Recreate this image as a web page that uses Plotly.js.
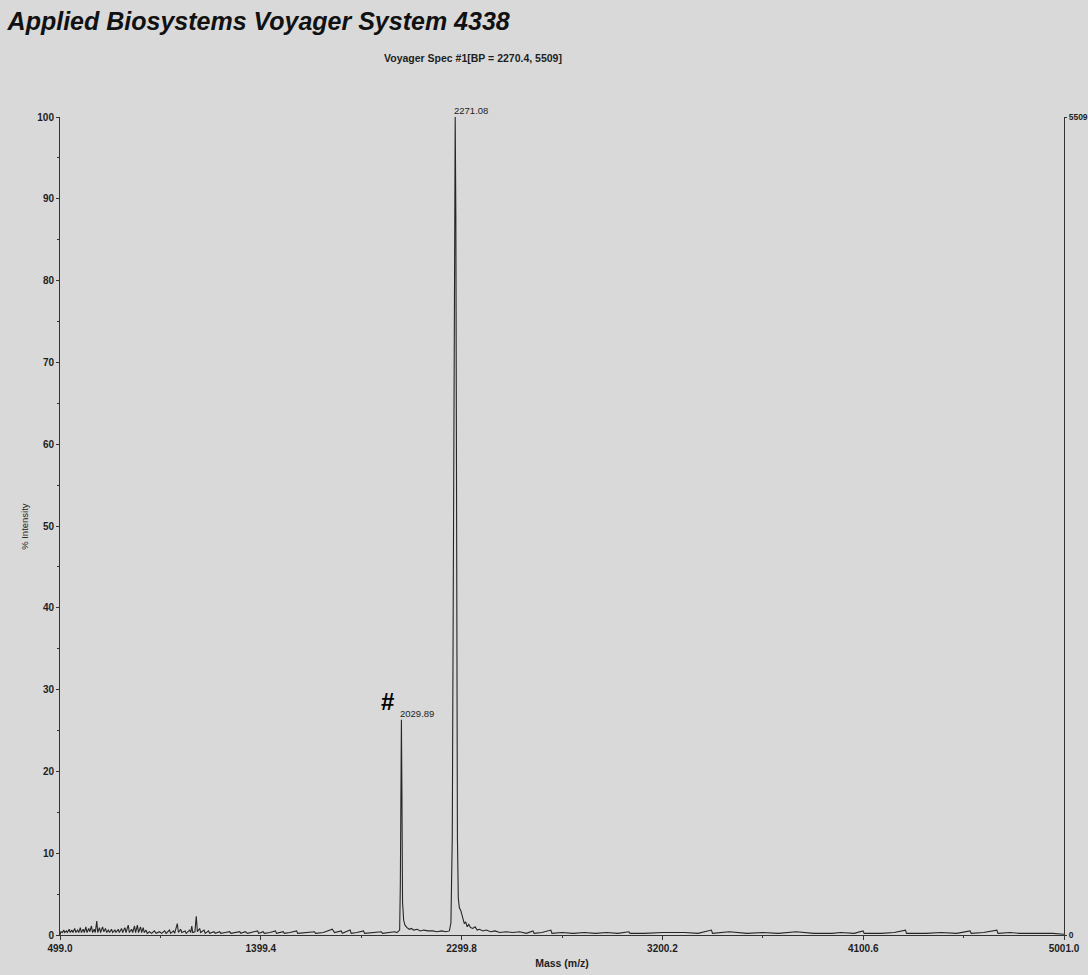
<!DOCTYPE html>
<html>
<head>
<meta charset="utf-8">
<script src="https://cdn.plot.ly/plotly-3.0.1.min.js"></script>
<style>
html,body{margin:0;padding:0;background:#d9d9d9;}
#chart{width:1088px;height:975px;}
</style>
</head>
<body>
<div id="chart"></div>
<script>
// Spectrum: mass (m/z) and % intensity
const mass = [
  499, 503, 510, 516, 520, 527, 532, 540, 545, 552, 557, 565, 570, 578, 583, 590, 595, 603, 608, 615,
  620, 628, 633, 640, 645, 652, 657, 664, 668, 676, 681, 690, 695, 703, 708, 716, 721, 730, 735, 745,
  750, 760, 765, 775, 780, 790, 795, 805, 810, 820, 825, 833, 838, 846, 851, 860, 865, 872, 877, 885,
  890, 900, 910, 922, 930, 945, 955, 968, 975, 990, 995, 1008, 1013, 1025, 1030, 1040, 1045, 1060, 1065, 1080,
  1085, 1090, 1094, 1104, 1110, 1115, 1125, 1130, 1145, 1150, 1165, 1170, 1190, 1195, 1215, 1220, 1240, 1260, 1265, 1285,
  1305, 1310, 1330, 1340, 1360, 1385, 1390, 1410, 1415, 1440, 1465, 1470, 1500, 1505, 1530, 1560, 1565, 1600, 1640, 1645,
  1680, 1720, 1730, 1760, 1765, 1800, 1805, 1830, 1860, 1865, 1900, 1940, 1945, 1980, 2000, 2010, 2016, 2022, 2025, 2028,
  2029.89, 2032, 2035, 2040, 2046, 2055, 2065, 2075, 2085, 2100, 2115, 2130, 2150, 2170, 2190, 2210, 2230, 2245, 2252, 2258,
  2264, 2268, 2271.08, 2274, 2277, 2281, 2285, 2290, 2296, 2300, 2306, 2312, 2318, 2325, 2332, 2340, 2350, 2360, 2370, 2380,
  2395, 2410, 2430, 2450, 2470, 2500, 2530, 2560, 2590, 2620, 2625, 2660, 2700, 2705, 2750, 2800, 2850, 2900, 2950, 3000,
  3050, 3055, 3120, 3200, 3300, 3360, 3420, 3425, 3500, 3580, 3650, 3720, 3800, 3880, 3960, 4000, 4060, 4100, 4105, 4180,
  4240, 4290, 4295, 4380, 4450, 4520, 4580, 4585, 4640, 4700, 4705, 4760, 4800, 4880, 4950, 5001
];
const intensity = [
  0.0, 0.4, 0.3, 0.6, 0.3, 0.5, 0.3, 0.7, 0.3, 0.6, 0.3, 0.8, 0.3, 0.6, 0.3, 0.9, 0.3, 0.7, 0.3, 1.0,
  0.3, 0.8, 0.4, 1.1, 0.3, 0.7, 0.3, 1.7, 0.3, 0.9, 0.3, 1.0, 0.4, 0.8, 0.3, 0.6, 0.3, 0.7, 0.3, 0.6,
  0.3, 0.7, 0.3, 0.8, 0.3, 0.9, 0.3, 1.2, 0.3, 0.7, 0.3, 1.1, 0.3, 1.2, 0.3, 1.0, 0.3, 0.9, 0.3, 0.6,
  0.2, 0.4, 0.2, 0.5, 0.2, 0.4, 0.2, 0.5, 0.2, 0.6, 0.2, 0.5, 0.2, 1.4, 0.3, 0.7, 0.3, 0.5, 0.2, 0.6,
  0.3, 1.1, 0.3, 0.4, 2.3, 0.4, 0.8, 0.3, 0.6, 0.2, 0.5, 0.2, 0.4, 0.2, 0.4, 0.2, 0.3, 0.4, 0.2, 0.3,
  0.4, 0.2, 0.4, 0.2, 0.3, 0.5, 0.2, 0.4, 0.2, 0.3, 0.5, 0.2, 0.4, 0.2, 0.3, 0.5, 0.2, 0.3, 0.4, 0.2,
  0.3, 0.7, 0.3, 0.5, 0.2, 0.6, 0.2, 0.3, 0.5, 0.2, 0.3, 0.4, 0.2, 0.3, 0.4, 0.3, 0.5, 0.6, 6.0, 22.0,
  26.3, 18.0, 4.0, 1.8, 1.2, 0.9, 0.7, 0.8, 0.6, 0.7, 0.5, 0.6, 0.5, 0.5, 0.4, 0.5, 0.4, 0.5, 1.5, 12.0,
  55.0, 92.0, 100.0, 88.0, 50.0, 12.0, 4.5, 3.3, 3.0, 2.6, 1.8, 1.4, 1.6, 1.0, 1.3, 0.9, 0.8, 1.0, 0.6, 0.7,
  0.5, 0.6, 0.4, 0.5, 0.3, 0.4, 0.3, 0.4, 0.2, 0.5, 0.2, 0.3, 0.6, 0.2, 0.3, 0.2, 0.3, 0.2, 0.3, 0.2,
  0.4, 0.2, 0.2, 0.3, 0.3, 0.2, 0.6, 0.2, 0.4, 0.2, 0.3, 0.2, 0.4, 0.2, 0.2, 0.3, 0.2, 0.5, 0.2, 0.2,
  0.3, 0.6, 0.2, 0.2, 0.3, 0.2, 0.5, 0.2, 0.3, 0.6, 0.2, 0.3, 0.2, 0.2, 0.2, 0.1
];
const xTickVals = [499.0, 1399.4, 2299.8, 3200.2, 4100.6, 5001.0];
const xTickText = ['499.0', '1399.4', '2299.8', '3200.2', '4100.6', '5001.0'];
const yTickVals = [0, 10, 20, 30, 40, 50, 60, 70, 80, 90, 100];
const absTickVals = [0, 5509];
const absTickText = ['0', '5509'];
const peakMass = [2271.08, 2029.89];
const peakInt = [100, 26.3];
const peakText = ['2271.08', '2029.89'];

const FONT = 'Liberation Sans, Arial, Helvetica, sans-serif';
const INK = '#1e1e1e';
const BG = '#d9d9d9';

const traces = [
  {
    x: mass, y: intensity, type: 'scatter', mode: 'lines',
    line: {color: '#262626', width: 1.1}, hoverinfo: 'skip', showlegend: false
  },
  {
    x: [], y: [], type: 'scatter', mode: 'lines', yaxis: 'y2', showlegend: false
  }
];

const annotations = peakMass.map((m, i) => ({
  x: m, y: peakInt[i], xref: 'x', yref: 'y', text: peakText[i],
  showarrow: false, xanchor: 'left', yanchor: 'bottom', xshift: -3, yshift: -1,
  font: {family: FONT, size: 9.5, color: INK}
}));
annotations.push({
  x: peakMass[1], y: peakInt[1], xref: 'x', yref: 'y', text: '#',
  showarrow: false, xanchor: 'right', yanchor: 'bottom', xshift: -5, yshift: 3,
  font: {family: FONT, size: 24, color: '#000', weight: 'bold'}
});
annotations.push({
  x: 0.411, y: 1.072, xref: 'paper', yref: 'paper', text: 'Voyager Spec #1[BP = 2270.4, 5509]',
  showarrow: false, xanchor: 'center', yanchor: 'middle',
  font: {family: FONT, size: 10.5, color: INK, weight: 'bold'}
});
annotations.push({
  x: -0.036, y: 0.5, xref: 'paper', yref: 'paper', text: '% Intensity', textangle: -90,
  showarrow: false, xanchor: 'center', yanchor: 'middle',
  font: {family: FONT, size: 9.5, color: INK}
});

const layout = {
  width: 1088, height: 975,
  paper_bgcolor: BG, plot_bgcolor: BG,
  margin: {l: 60, r: 24, t: 117, b: 40},
  font: {family: FONT, color: INK},
  title: {
    text: '<i>Applied Biosystems Voyager System 4338</i>',
    x: 0.007, xanchor: 'left', xref: 'container',
    y: 0.978, yanchor: 'middle', yref: 'container',
    font: {family: FONT, size: 25, color: '#111', weight: 'bold'}
  },
  xaxis: {
    range: [499, 5001], showgrid: false, zeroline: false,
    showline: true, linecolor: '#333', linewidth: 1,
    tickmode: 'array', tickvals: xTickVals, ticktext: xTickText,
    ticks: 'outside', ticklen: 4, tickcolor: '#333',
    minor: {tick0: 499, dtick: 450.2, ticks: 'outside', ticklen: 2, tickcolor: '#333'},
    tickfont: {family: FONT, size: 10, color: INK, weight: 'bold'},
    title: {text: 'Mass (m/z)', standoff: 6, font: {family: FONT, size: 10.5, color: INK, weight: 'bold'}},
    fixedrange: true
  },
  yaxis: {
    range: [0, 100], showgrid: false, zeroline: false,
    showline: true, linecolor: '#333', linewidth: 1,
    tickmode: 'array', tickvals: yTickVals,
    ticks: 'outside', ticklen: 3, tickcolor: '#333',
    minor: {tick0: 0, dtick: 5, ticks: 'outside', ticklen: 2, tickcolor: '#333'},
    tickfont: {family: FONT, size: 10, color: INK, weight: 'bold'},
    fixedrange: true
  },
  yaxis2: {
    overlaying: 'y', side: 'right', range: [0, 5509],
    showgrid: false, zeroline: false,
    showline: true, linecolor: '#333', linewidth: 1,
    tickmode: 'array', tickvals: absTickVals, ticktext: absTickText,
    ticks: 'outside', ticklen: 2, tickcolor: '#333',
    ticklabelstandoff: 0,
    tickfont: {family: FONT, size: 8.5, color: INK, weight: 'bold'},
    fixedrange: true
  },
  annotations: annotations,
  showlegend: false
};

Plotly.newPlot('chart', traces, layout, {displayModeBar: false, staticPlot: true});
</script>
</body>
</html>
